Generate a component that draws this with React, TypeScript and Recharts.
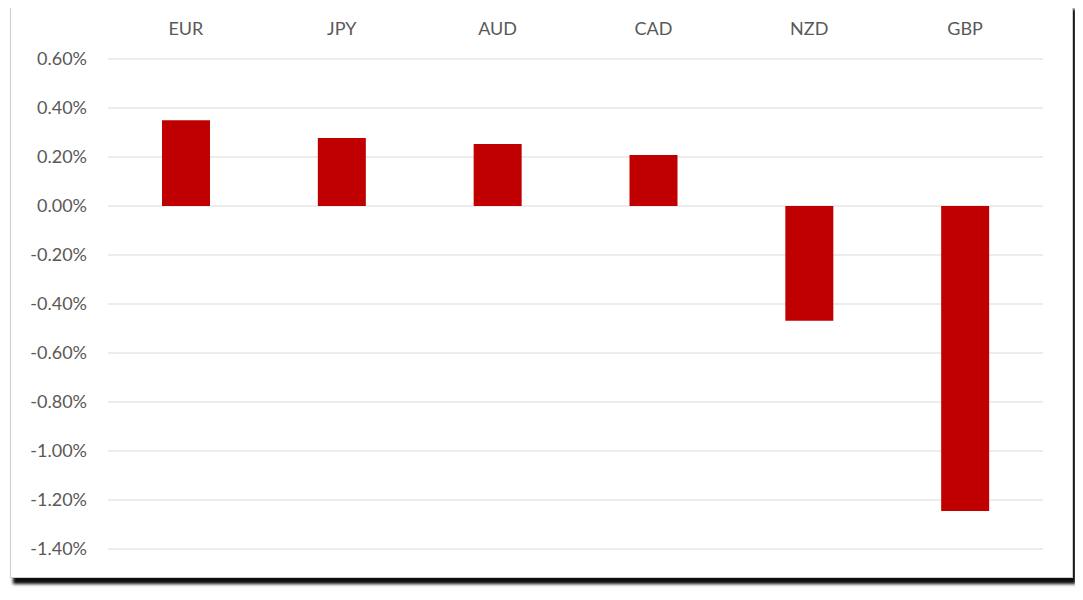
import React from 'react';
import { BarChart, Bar, XAxis, YAxis, CartesianGrid } from 'recharts';

const currencies = ['EUR', 'JPY', 'AUD', 'CAD', 'NZD', 'GBP'];
const changes = [0.35, 0.278, 0.253, 0.208, -0.468, -1.245];
const yTicks = [-1.4, -1.2, -1.0, -0.8, -0.6, -0.4, -0.2, 0, 0.2, 0.4, 0.6];

const data = currencies.map((c, i) => ({ name: c, value: changes[i] }));

const font = 'Lato, "Open Sans", sans-serif';

export default function App() {
  return (
    <div style={{ position: 'relative', width: 1083, height: 600, marginLeft: -8, marginTop: -8, background: '#fff', overflow: 'hidden' }}>
      <div
        style={{
          position: 'absolute',
          left: 10,
          top: 3,
          width: 1061,
          height: 573,
          border: '1px solid #cfcfcf',
          background: '#fff',
          boxShadow: '3px 6px 3px rgba(0,0,0,0.95)',
        }}
      />
      <div style={{ position: 'absolute', left: 0, top: 0 }}>
        <BarChart
          width={1083}
          height={600}
          data={data}
          margin={{ top: 29, right: 40, bottom: 51, left: 8 }}
        >
          <CartesianGrid vertical={false} stroke="#d9d9d9" strokeWidth={1.2} />
          <XAxis
            dataKey="name"
            orientation="top"
            height={30}
            axisLine={false}
            tickLine={false}
            tickSize={0}
            tickMargin={24}
            tick={{ fill: '#595959', fontSize: 18, fontFamily: font }}
          />
          <YAxis
            width={100}
            domain={[-1.4, 0.6]}
            ticks={yTicks}
            interval={0}
            axisLine={false}
            tickLine={false}
            tickSize={0}
            tickMargin={21}
            tickFormatter={(v: number) => `${v.toFixed(2)}%`}
            tick={{ fill: '#595959', fontSize: 18, fontFamily: font }}
          />
          <Bar dataKey="value" fill="#c00000" barSize={48} isAnimationActive={false} />
        </BarChart>
      </div>
    </div>
  );
}
